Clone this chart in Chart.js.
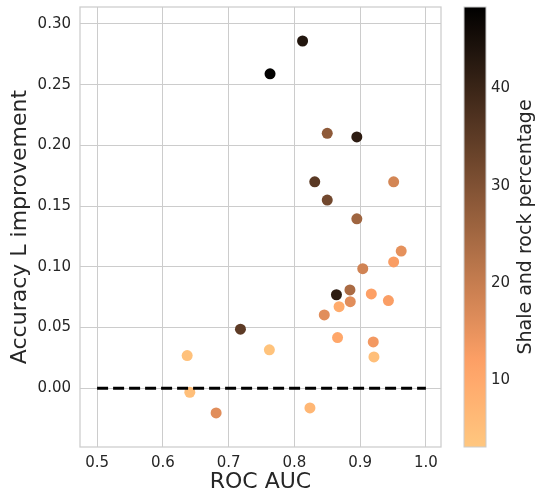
<!DOCTYPE html>
<html>
<head>
<meta charset="utf-8">
<script src="https://cdn.jsdelivr.net/npm/chart.js@4"></script>
<style>
  html, body { margin: 0; padding: 0; background: #fff; }
  #wrap { width: 536px; height: 495px; }
</style>
</head>
<body>
<div id="wrap"><canvas id="chart"></canvas></div>
<script>
// данные
var rocAuc = [0.8125, 0.763, 0.850, 0.895, 0.831, 0.951, 0.850, 0.895, 0.9625, 0.951,
              0.904, 0.8845, 0.864, 0.917, 0.885, 0.943, 0.868, 0.8455, 0.718, 0.8657,
              0.920, 0.637, 0.762, 0.921, 0.641, 0.681, 0.8237];
var accImprovement = [0.286, 0.259, 0.210, 0.207, 0.170, 0.170, 0.155, 0.1395, 0.113, 0.104,
                      0.0985, 0.081, 0.077, 0.0777, 0.0713, 0.0722, 0.0672, 0.0604, 0.0486, 0.0417,
                      0.0381, 0.0269, 0.0316, 0.0258, -0.0033, -0.0203, -0.0162];
var shalePct = [43.5, 48, 28, 42, 35.5, 18, 32, 25.5, 15.5, 12.6,
                18.5, 24, 42, 12, 16, 12.5, 9.4, 16, 35, 10.5,
                13.5, 4.5, 4, 5, 5, 16, 6.7];

var refLineX = [0.5, 1.0];
var refLineY = [0, 0];

var xTicks = [0.5, 0.6, 0.7, 0.8, 0.9, 1.0];
var yTicks = [0.00, 0.05, 0.10, 0.15, 0.20, 0.25, 0.30];
var cbarTicks = [10, 20, 30, 40];
var cbarMin = 3.1, cbarMax = 48.4;

var textColor = "#262626";
var gridColor = "#cccccc";
var fontFamily = "'DejaVu Sans', sans-serif";

// copper_r из matplotlib
function copperR(v) {
  var t = (v - cbarMin) / (cbarMax - cbarMin);
  t = Math.max(0, Math.min(1, t));
  var x = 1 - t;
  var r = Math.min(1, x / 0.809524) * 255;
  var g = 0.7812 * x * 255;
  var b = 0.4975 * x * 255;
  return "rgb(" + Math.round(r) + "," + Math.round(g) + "," + Math.round(b) + ")";
}

var points = rocAuc.map(function (x, i) { return { x: x, y: accImprovement[i] }; });
var refLine = refLineX.map(function (x, i) { return { x: x, y: refLineY[i] }; });

function fixTicks(list) {
  return function (scale) {
    scale.ticks = list.map(function (v) { return { value: v }; });
  };
}

var colorbarPlugin = {
  id: "colorbarPlugin",
  afterDraw: function (chart) {
    var ctx = chart.ctx;
    var area = chart.chartArea;
    ctx.save();
    // рамка графика
    ctx.strokeStyle = gridColor;
    ctx.lineWidth = 1.25;
    ctx.strokeRect(area.left, area.top, area.right - area.left, area.bottom - area.top);

    // шкала цвета
    var cb = chart.scales.cbar;
    var bx = 464, bw = 22;
    var top = cb.getPixelForValue(cbarMax);
    var bottom = cb.getPixelForValue(cbarMin);
    var grad = ctx.createLinearGradient(0, bottom, 0, top);
    for (var i = 0; i <= 20; i++) {
      var v = cbarMin + (cbarMax - cbarMin) * i / 20;
      grad.addColorStop(i / 20, copperR(v));
    }
    ctx.fillStyle = grad;
    ctx.fillRect(bx, top, bw, bottom - top);
    ctx.strokeStyle = gridColor;
    ctx.lineWidth = 1;
    ctx.strokeRect(bx, top, bw, bottom - top);

    // подпись шкалы
    ctx.translate(526, (top + bottom) / 2);
    ctx.rotate(-Math.PI / 2);
    ctx.fillStyle = textColor;
    ctx.font = "19px " + fontFamily;
    ctx.textAlign = "center";
    ctx.textBaseline = "middle";
    ctx.fillText("Shale and rock percentage", 0, 0);
    ctx.restore();
  }
};

var ctx = document.getElementById("chart").getContext("2d");
var chart = new Chart(ctx, {
  type: "scatter",
  data: {
    datasets: [
      {
        label: "zero",
        type: "line",
        data: refLine,
        borderColor: "#000000",
        borderWidth: 3,
        borderDash: [11, 5],
        pointRadius: 0,
        fill: false,
        order: 0,
      },
      {
        label: "points",
        data: points,
        backgroundColor: shalePct.map(copperR),
        borderWidth: 0,
        pointRadius: 5.5,
        pointHoverRadius: 5.5,
        order: 1,
      },
    ],
  },
  options: {
    responsive: true,
    maintainAspectRatio: false,
    animation: false,
    layout: { padding: { top: 7, left: 0, right: 0, bottom: 0 } },
    plugins: {
      legend: { display: false },
      tooltip: { enabled: false },
    },
    scales: {
      x: {
        type: "linear",
        min: 0.474,
        max: 1.023,
        afterBuildTicks: fixTicks(xTicks),
        afterFit: function (s) { s.height = 48; s.paddingLeft = 0; s.paddingRight = 0; },
        grid: { color: gridColor, lineWidth: 1, drawTicks: false },
        border: { display: false },
        ticks: {
          padding: 7,
          color: textColor,
          font: { family: fontFamily, size: 15 },
          callback: function (v) { return v.toFixed(1); },
        },
        title: {
          display: true,
          text: "ROC AUC",
          color: textColor,
          font: { family: fontFamily, size: 22 },
          padding: { top: 0, bottom: 0 },
        },
      },
      y: {
        type: "linear",
        position: "left",
        min: -0.0484,
        max: 0.314,
        afterBuildTicks: fixTicks(yTicks),
        afterFit: function (s) { s.width = 80; s.paddingTop = 0; s.paddingBottom = 0; },
        grid: { color: gridColor, lineWidth: 1, drawTicks: false },
        border: { display: false },
        ticks: {
          padding: 9,
          color: textColor,
          font: { family: fontFamily, size: 15 },
          callback: function (v) { return v.toFixed(2); },
        },
        title: {
          display: true,
          text: "Accuracy L improvement",
          color: textColor,
          font: { family: fontFamily, size: 22 },
          padding: { top: 7, bottom: 0 },
        },
      },
      cbar: {
        type: "linear",
        position: "right",
        min: cbarMin,
        max: cbarMax,
        afterBuildTicks: fixTicks(cbarTicks),
        afterFit: function (s) { s.width = 95; s.paddingTop = 0; s.paddingBottom = 0; },
        grid: { display: false, drawOnChartArea: false, drawTicks: false },
        border: { display: false },
        ticks: {
          padding: 50,
          color: textColor,
          font: { family: fontFamily, size: 15 },
        },
      },
    },
  },
  plugins: [colorbarPlugin],
});
</script>
</body>
</html>
